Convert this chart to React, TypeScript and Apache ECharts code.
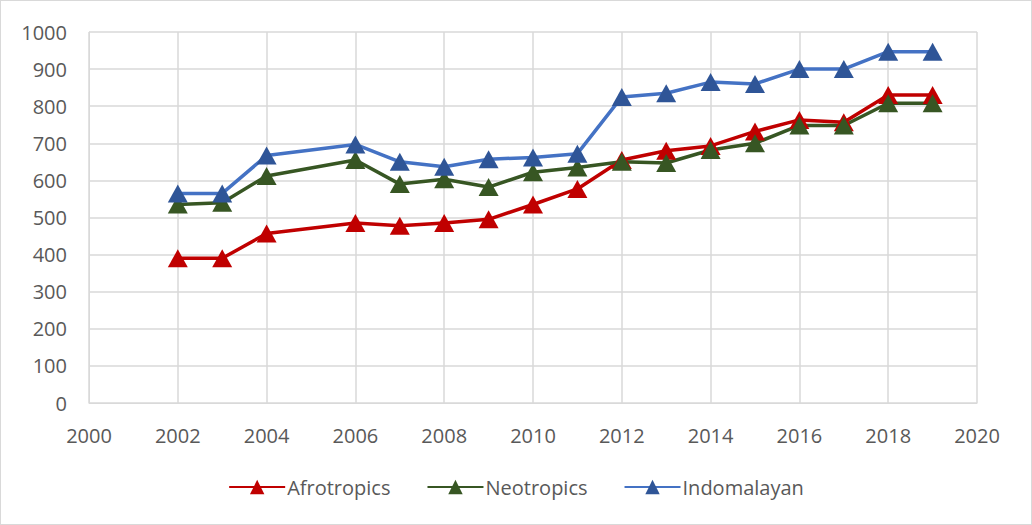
import React, { useEffect, useRef } from "react";
import * as echarts from "echarts";

const years = [2002, 2003, 2004, 2006, 2007, 2008, 2009, 2010, 2011, 2012, 2013, 2014, 2015, 2016, 2017, 2018, 2019];
const afrotropics = [390, 390, 457, 485, 478, 485, 495, 535, 577, 655, 680, 693, 732, 763, 757, 830, 830];
const neotropics = [535, 540, 612, 655, 590, 603, 582, 622, 635, 650, 647, 682, 700, 748, 748, 808, 808];
const indomalayan = [565, 565, 667, 697, 650, 637, 657, 662, 672, 825, 835, 865, 860, 900, 900, 947, 947];

const FONT = "'Open Sans', 'Noto Sans', sans-serif";

export default function App() {
  const ref = useRef<HTMLDivElement>(null);
  useEffect(() => {
    document.body.style.margin = "0";
    const chart = echarts.init(ref.current!, null, { renderer: "svg" });
    const mk = (name: string, data: number[], line: string, marker: string) => ({
      name,
      type: "line",
      data: years.map((y, i) => [y, data[i]]),
      symbol: "triangle",
      symbolSize: [20, 18],
      lineStyle: { color: line, width: 3.5 },
      itemStyle: { color: marker },
      z: 3,
    });
    chart.setOption({
      animation: false,
      backgroundColor: "#ffffff",
      textStyle: { fontFamily: FONT },
      grid: { left: 88, right: 54, top: 31, bottom: 121 },
      xAxis: {
        type: "value",
        min: 2000,
        max: 2020,
        interval: 2,
        axisLine: { show: true, lineStyle: { color: "#d9d9d9", width: 1 } },
        axisTick: { show: false },
        axisLabel: {
          color: "#595959",
          fontSize: 20,
          margin: 22,
          fontFamily: FONT,
          formatter: (v: number) => String(v),
        },
        splitLine: { show: true, lineStyle: { color: "#d9d9d9", width: 1.5 } },
      },
      yAxis: {
        type: "value",
        min: 0,
        max: 1000,
        interval: 100,
        axisLine: { show: true, lineStyle: { color: "#d9d9d9", width: 1 } },
        axisTick: { show: false },
        axisLabel: {
          color: "#595959",
          fontSize: 20,
          margin: 22,
          fontFamily: FONT,
          formatter: (v: number) => String(v),
        },
        splitLine: { show: true, lineStyle: { color: "#d9d9d9", width: 1.5 } },
      },
      legend: {
        top: 471,
        left: "center",
        itemWidth: 56,
        itemHeight: 18,
        itemGap: 36,
        textStyle: { color: "#595959", fontSize: 20, fontFamily: FONT, padding: [0, 0, 0, -3] },
        data: ["Afrotropics", "Neotropics", "Indomalayan"],
      },
      series: [
        mk("Afrotropics", afrotropics, "#c00000", "#c00000"),
        mk("Neotropics", neotropics, "#375623", "#375623"),
        mk("Indomalayan", indomalayan, "#4472c4", "#2f5597"),
      ],
    });
    return () => chart.dispose();
  }, []);
  return (
    <div
      ref={ref}
      style={{ width: 1032, height: 525, boxSizing: "border-box", border: "1px solid #d9d9d9" }}
    />
  );
}
